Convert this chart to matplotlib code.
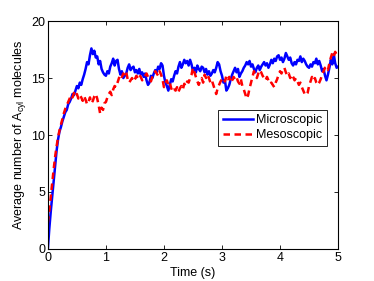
import numpy as np
import matplotlib
matplotlib.use('Agg')
import matplotlib.pyplot as plt

plt.rcParams['font.family'] = ['Liberation Sans', 'DejaVu Sans']
plt.rcParams['mathtext.fontset'] = 'custom'
plt.rcParams['mathtext.rm'] = 'Liberation Sans'
plt.rcParams['mathtext.it'] = 'Liberation Sans:italic'

# time axis, 0.025 s steps
time = np.arange(201) * 0.025

# microscopic trace
micro = [
    0.0, 1.8, 3.3, 4.6, 6.0, 7.3, 8.6, 9.6, 10.3, 10.7,
    11.2, 11.6, 12.0, 12.2, 12.7, 12.9, 13.2, 13.6, 13.5, 13.9,
    14.3, 14.1, 14.6, 14.4, 14.9, 15.3, 15.8, 16.4, 16.2, 17.0,
    17.6, 17.1, 17.4, 16.8, 16.9, 16.2, 16.5, 15.8, 15.5, 15.3,
    15.2, 15.6, 15.4, 16.0, 16.3, 16.7, 16.1, 16.5, 16.6, 15.8,
    15.3, 15.6, 15.0, 15.2, 15.4, 15.9, 16.2, 15.7, 15.9, 16.0,
    15.5, 15.7, 15.4, 15.8, 15.3, 15.5, 15.1, 15.4, 14.8, 14.4,
    14.6, 15.2, 15.0, 15.4, 15.7, 15.5, 16.0, 15.8, 16.3, 16.1,
    15.2, 14.6, 14.3, 13.9, 14.4, 14.9, 14.7, 15.2, 15.6, 15.4,
    16.0, 16.4, 15.9, 16.2, 16.6, 16.3, 16.5, 16.1, 16.6, 16.2,
    15.6, 15.9, 15.5, 16.1, 15.8, 15.6, 16.0, 15.9, 15.5, 15.8,
    15.3, 15.6, 15.2, 15.4, 15.7, 15.5, 15.9, 16.4, 16.2, 15.6,
    15.2, 14.6, 14.8, 13.9, 14.1, 14.4, 14.9, 15.3, 15.6, 15.9,
    15.5, 15.8, 15.1, 15.4, 15.6, 15.9, 16.1, 16.4, 16.2, 16.5,
    16.0, 16.2, 15.8, 15.5, 15.9, 16.1, 15.7, 16.0, 16.2, 16.4,
    16.1, 16.3, 15.9, 16.2, 16.6, 16.3, 16.7, 16.5, 16.9, 17.0,
    16.6, 16.8, 16.4, 16.7, 17.2, 16.9, 16.6, 16.8, 16.3, 16.1,
    16.4, 16.2, 16.6, 16.5, 16.9, 16.4, 16.7, 16.5, 16.2, 16.0,
    15.9, 16.2, 16.0, 16.4, 16.3, 16.7, 16.2, 16.5, 16.1, 15.6,
    15.8, 15.2, 14.8, 15.3, 15.9, 16.6, 16.2, 17.1, 16.3, 15.9,
    16.0,
]

# mesoscopic trace
meso = [
    2.3, 3.4, 4.6, 5.8, 7.0, 8.1, 9.0, 9.8, 10.4, 10.9,
    11.4, 11.9, 12.3, 12.6, 12.9, 13.2, 13.5, 13.3, 13.7, 13.4,
    13.6, 13.2, 13.5, 13.3, 13.0, 13.4, 13.1, 12.7, 12.9, 13.3,
    12.8, 13.0, 13.4, 13.6, 13.2, 12.6, 11.9, 12.4, 12.2, 12.8,
    12.9, 13.3, 13.6, 13.8, 13.5, 14.0, 14.3, 14.2, 14.6, 15.0,
    15.3, 15.1, 15.4, 15.2, 15.5, 14.9, 14.6, 14.8, 15.0, 14.7,
    14.9, 15.2, 15.0, 15.3, 15.1, 14.8, 15.0, 15.2, 15.4, 15.1,
    15.0, 14.7, 15.1, 15.3, 15.6, 15.4, 15.2, 15.6, 15.3, 14.9,
    14.2, 14.5, 14.8, 14.4, 14.6, 14.1, 13.8, 14.0, 13.9, 14.2,
    13.8, 14.1, 14.3, 14.0, 14.5, 14.3, 14.7, 14.6, 15.0, 15.3,
    15.9, 15.5, 15.1, 14.7, 14.4, 14.8, 15.0, 14.6, 15.3, 15.0,
    15.3, 15.0, 14.6, 14.8, 14.4, 14.0, 13.6, 14.1, 14.4, 14.7,
    14.9, 15.0, 14.7, 15.2, 14.9, 15.1, 14.6, 14.8, 15.1, 14.9,
    15.1, 14.7, 14.5, 14.9, 14.3, 14.0, 13.6, 13.2, 13.5, 14.1,
    14.6, 15.1, 15.6, 15.3, 15.0, 15.4, 15.7, 15.5, 15.2, 15.0,
    14.8, 15.1, 14.8, 14.5, 14.6, 14.4, 14.2, 14.6, 14.9, 15.3,
    15.6, 15.4, 15.8, 15.9, 15.5, 15.2, 15.4, 15.0, 15.3, 15.1,
    14.8, 15.0, 14.7, 14.4, 14.6, 14.2, 13.9, 13.6, 13.5, 13.7,
    14.3, 14.7, 15.1, 14.8, 15.0, 14.6, 14.4, 14.6, 14.9, 15.3,
    15.6, 15.9, 16.0, 15.7, 16.3, 16.8, 17.2, 16.9, 17.3, 17.0,
    16.8,
]

fig = plt.figure(figsize=(3.74, 2.81), dpi=100)
ax = fig.add_axes([0.128, 0.114, 0.776, 0.811])

ax.plot(time, micro, color='#0000ff', linewidth=1.8, label='Microscopic')
ax.plot(time, meso, color='#ff0000', linewidth=1.8, linestyle=(0, (2.6, 1.8)), label='Mesoscopic')

ax.set_xlim(0, 5)
ax.set_ylim(0, 20)
ax.set_xticks([0, 1, 2, 3, 4, 5])
ax.set_yticks([0, 5, 10, 15, 20])
ax.tick_params(direction='in', length=3, width=0.6, top=True, right=True, labelsize=9, pad=2)
for s in ax.spines.values():
    s.set_linewidth(0.8)

ax.set_xlabel('Time (s)', fontsize=9, labelpad=2)
ax.set_ylabel('Average number of A$_{\\rm cyl}$ molecules', fontsize=9, labelpad=2)

leg = ax.legend(loc='upper right', bbox_to_anchor=(0.962, 0.61), fontsize=9,
                frameon=True, fancybox=False, edgecolor='black', framealpha=1,
                handlelength=2.4, borderpad=0.35, labelspacing=0.25, handletextpad=0.3,
                borderaxespad=0)
leg.get_frame().set_linewidth(0.6)

fig.savefig('out.png', dpi=100)
